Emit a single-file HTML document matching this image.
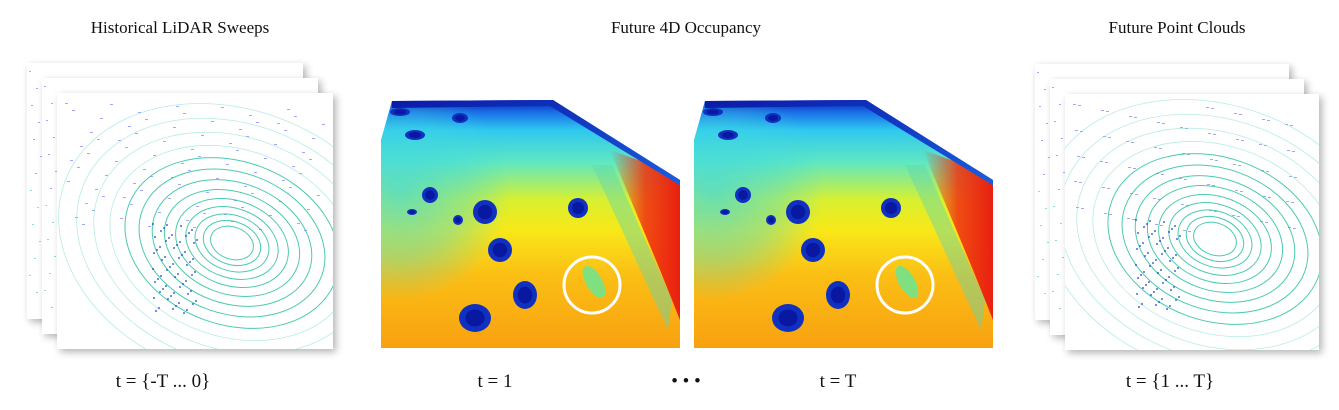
<!DOCTYPE html>
<html><head><meta charset="utf-8"><style>
html,body{margin:0;background:#fff;width:1339px;height:410px;overflow:hidden}
svg{display:block}
text{font-family:"Liberation Serif",serif;fill:#111}
</style></head><body>
<svg id="fig" width="1339" height="410" viewBox="0 0 1339 410">
<defs>
<filter id="sh" x="-10%" y="-10%" width="125%" height="125%"><feGaussianBlur in="SourceAlpha" stdDeviation="4"/><feOffset dx="3" dy="3"/><feComponentTransfer><feFuncA type="linear" slope="0.3"/></feComponentTransfer><feMerge><feMergeNode/><feMergeNode in="SourceGraphic"/></feMerge></filter>
<linearGradient id="occ" x1="0" y1="0" x2="0" y2="1">
<stop offset="0" stop-color="#0a1fb0"/><stop offset="0.05" stop-color="#1a70e8"/><stop offset="0.12" stop-color="#2ec8f0"/><stop offset="0.25" stop-color="#60e8c0"/><stop offset="0.4" stop-color="#d8f030"/><stop offset="0.52" stop-color="#f8e818"/><stop offset="0.7" stop-color="#fbbf15"/><stop offset="1" stop-color="#f8a010"/></linearGradient>
<radialGradient id="leftcy" cx="0.5" cy="0.5" r="0.5"><stop offset="0" stop-color="#40d8e0" stop-opacity="0.75"/><stop offset="0.6" stop-color="#40d8e0" stop-opacity="0.4"/><stop offset="1" stop-color="#40d8e0" stop-opacity="0"/></radialGradient>
<linearGradient id="redside" x1="0" y1="0" x2="1" y2="0"><stop offset="0" stop-color="#f03010" stop-opacity="0"/><stop offset="0.5" stop-color="#f03010" stop-opacity="0.85"/><stop offset="1" stop-color="#e82010"/></linearGradient>
<linearGradient id="edge" x1="0" y1="0" x2="1" y2="1"><stop offset="0" stop-color="#0a1aa8"/><stop offset="1" stop-color="#1a5ee0"/></linearGradient>
</defs>
<text x="180" y="33" font-size="17" text-anchor="middle">Historical LiDAR Sweeps</text>
<text x="686" y="33" font-size="17" text-anchor="middle">Future 4D Occupancy</text>
<text x="1177" y="33" font-size="17" text-anchor="middle">Future Point Clouds</text>
<g id="hist"></g>
<g id="fut"></g>
<g id="occ1"></g>
<g id="occ2"></g>
<text x="163" y="387" font-size="19" text-anchor="middle">t = {-T ... 0}</text>
<text x="495" y="387" font-size="19" text-anchor="middle">t = 1</text>
<text x="686" y="387" font-size="19" text-anchor="middle">• • •</text>
<text x="838" y="387" font-size="19" text-anchor="middle">t = T</text>
<text x="1170" y="387" font-size="19" text-anchor="middle">t = {1 ... T}</text>
</svg>
<script>
const NS='http://www.w3.org/2000/svg';
function mk(p,tag,a){const e=document.createElementNS(NS,tag);for(const k in a)e.setAttribute(k,a[k]);p.appendChild(e);return e;}
function stack(id,x0,y0,w,h,cx,cy){
  const g=document.getElementById(id);
  for(let i=0;i<3;i++){
    const f=mk(g,'g',{});
    
    
    const x=x0+i*15,y=y0+i*15;
    mk(f,'rect',{x:x,y:y,width:w,height:h,fill:'#fff',filter:'url(#sh)'});
    if(i<2){
      for(let k=0;k<14;k++){mk(f,'rect',{x:x+2+((k*7)%12),y:y+8+k*17,width:2,height:1,fill:k<7?'#6a6af0':'#40c8b0',opacity:0.6});}
      continue;
    }
    for(let k=0;k<90;k++){const px=x+8+((k*53)%(w-16)),py=y+10+((k*37)%(h*0.5));
      mk(f,'rect',{x:px,y:py,width:3,height:1,fill:'#6a6af0',opacity:0.6});}
    const clip='c'+id+i;
    const cp=mk(f,'clipPath',{id:clip});mk(cp,'rect',{x:x,y:y,width:w,height:h});
    const r=mk(f,'g',{'clip-path':'url(#'+clip+')'});
    const ccx=x+cx,ccy=y+cy;
    for(let k=0;k<13;k++){const rx=22+k*7+k*k*0.5,ry=16+k*5+k*k*0.4;
      mk(r,'ellipse',{cx:ccx,cy:ccy,rx:rx,ry:ry,fill:'none',stroke:k<9?'#2cc2a0':'#6fdcc8','stroke-width':k<9?1:0.8,opacity:k<9?0.85:0.5,transform:'rotate(20 '+ccx+' '+ccy+')'});}
    mk(r,'ellipse',{cx:ccx,cy:ccy,rx:18,ry:13,fill:'#fff',transform:'rotate(20 '+ccx+' '+ccy+')'});
    for(let k=0;k<60;k++){mk(r,'rect',{x:ccx-80+((k*13)%45),y:ccy-20+((k*17)%90),width:2,height:2,fill:'#2040d0',opacity:0.6});}
  }
}
stack('hist',27,63,276,256,175,150);
stack('fut',1035,64,254,256,150,145);
function occ(id,dx){
  const g=document.getElementById(id);
  const pts=[[392,101],[553,100],[680,180],[680,348],[381,348],[381,140]].map(p=>(p[0]+dx)+','+p[1]).join(' ');
  const cid='oc'+id;
  const cp=mk(g,'clipPath',{id:cid});mk(cp,'polygon',{points:pts});
  const c=mk(g,'g',{'clip-path':'url(#'+cid+')'});
  mk(c,'rect',{x:381+dx,y:100,width:300,height:250,fill:'url(#occ)'});
  mk(c,'ellipse',{cx:400+dx,cy:190,rx:110,ry:110,fill:'url(#leftcy)'});
  mk(c,'polygon',{points:[[610+dx,150],[680+dx,175],[680+dx,320],[660+dx,270]].join(' '),fill:'url(#redside)'});
  mk(c,'polygon',{points:[[392+dx,100],[553+dx,99],[681+dx,179],[681+dx,186],[550+dx,106],[392+dx,108]].join(' '),fill:'url(#edge)'});
  mk(c,'polygon',{points:[[592+dx,165],[612+dx,165],[672+dx,300],[668+dx,330]].join(' '),fill:'#60d8b0',opacity:0.45});
  const blobs=[[485,212,12,12],[500,250,12,12],[525,295,12,14],[475,318,16,14],[578,208,10,10],[430,195,8,8],[458,220,5,5],[412,212,5,3],[460,118,8,5],[415,135,10,5],[400,112,10,4]];
  blobs.forEach(b=>{mk(c,'ellipse',{cx:b[0]+dx,cy:b[1],rx:b[2],ry:b[3],fill:'#1030c0'});mk(c,'ellipse',{cx:b[0]+dx,cy:b[1],rx:b[2]*0.6,ry:b[3]*0.6,fill:'#0818a0'});});
  mk(c,'ellipse',{cx:594+dx,cy:282,rx:8,ry:18,fill:'#80e080',transform:'rotate(-30 '+(594+dx)+' 282)'});
  const circ=mk(g,'circle',{cx:592+dx,cy:285,r:28,fill:'none',stroke:'#fff','stroke-width':3});
  
  
}
occ('occ1',0);
occ('occ2',313);
</script>
</body></html>
